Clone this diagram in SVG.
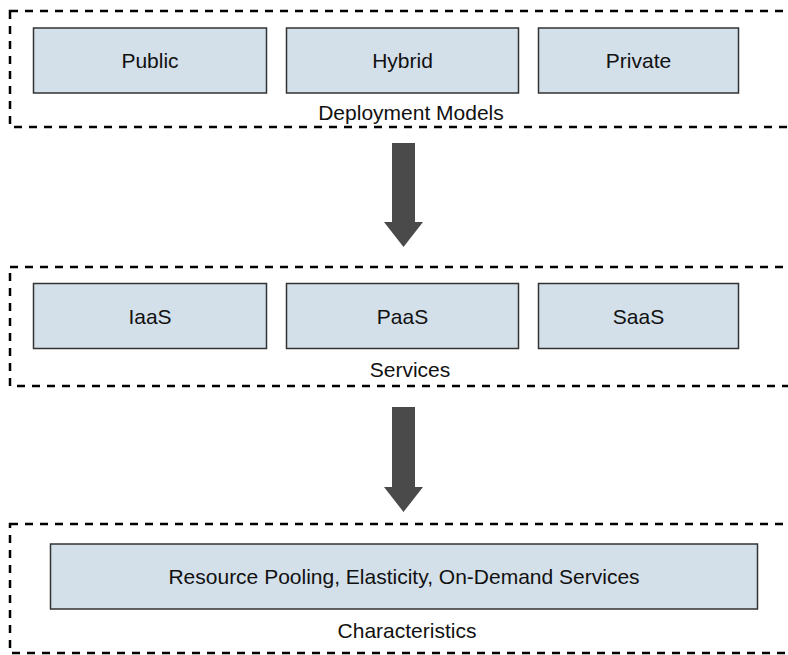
<svg xmlns="http://www.w3.org/2000/svg" width="788" height="655" viewBox="0 0 788 655">
<style>
.container{fill:none;stroke:#000;stroke-width:2.5;stroke-dasharray:8 7}
.box{fill:#d3e0ea;stroke:#333;stroke-width:1.5}
.t{font-family:"Liberation Sans",Arial,Helvetica,sans-serif;font-size:21px;fill:#111;text-anchor:middle}
.arrow{fill:#4a4a4a}
</style>
<rect width="788" height="655" fill="#fff"/>
<g id="deployment-models">
<rect class="container" x="10" y="11" width="803" height="116"/>
<text class="t" x="411" y="120">Deployment Models</text>
</g>
<g id="public"><rect class="box" x="33.5" y="28" width="233" height="65"/><text class="t" x="150" y="67.5">Public</text></g>
<g id="hybrid"><rect class="box" x="286.5" y="28" width="232" height="65"/><text class="t" x="402.5" y="67.5">Hybrid</text></g>
<g id="private"><rect class="box" x="538.5" y="28" width="200" height="65"/><text class="t" x="638.5" y="67.5">Private</text></g>
<g id="services">
<rect class="container" x="10" y="267" width="803" height="119"/>
<text class="t" x="410" y="377">Services</text>
</g>
<g id="iaas"><rect class="box" x="33.5" y="283.5" width="233" height="65"/><text class="t" x="150" y="323.5">IaaS</text></g>
<g id="paas"><rect class="box" x="286.5" y="283.5" width="232" height="65"/><text class="t" x="402.5" y="323.5">PaaS</text></g>
<g id="saas"><rect class="box" x="538.5" y="283.5" width="200" height="65"/><text class="t" x="638.5" y="323.5">SaaS</text></g>
<g id="characteristics">
<rect class="container" x="10" y="524" width="803" height="129"/>
<text class="t" x="407" y="638">Characteristics</text>
</g>
<g id="resource-pooling"><rect class="box" x="50.5" y="544" width="707" height="65"/><text class="t" x="404" y="584">Resource Pooling, Elasticity, On-Demand Services</text></g>
<g id="connectors">
<polygon class="arrow" points="392,143 415,143 415,222 423,222 403.5,247 384,222 392,222"/>
<polygon class="arrow" points="392,407 415,407 415,487 423,487 403.5,512 384,487 392,487"/>
</g>
</svg>
